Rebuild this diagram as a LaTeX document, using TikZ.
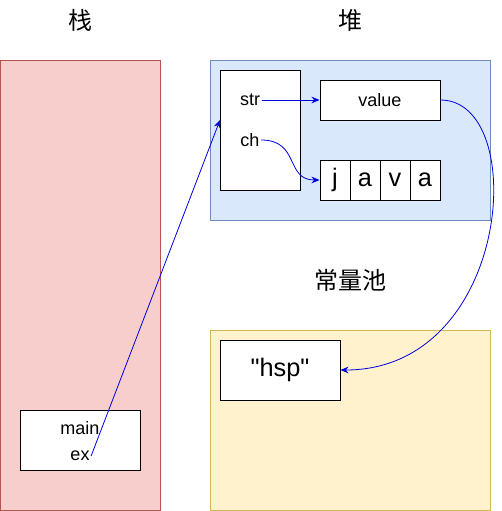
\documentclass[tikz,border=0pt]{standalone}
\usepackage{fontspec}
\setmainfont{Liberation Sans}
\newfontfamily\plainsans{Liberation Sans}
\newfontfamily\cjk{Noto Sans CJK SC}
\usetikzlibrary{arrows.meta}

\definecolor{stackfill}{HTML}{F8CECC}
\definecolor{stackline}{HTML}{B85450}
\definecolor{heapfill}{HTML}{DAE8FC}
\definecolor{heapline}{HTML}{6C8EBF}
\definecolor{poolfill}{HTML}{FFF2CC}
\definecolor{poolline}{HTML}{D6B656}
\definecolor{refblue}{HTML}{0000E0}

\tikzset{
    cell/.style={draw=black, fill=white, line width=0.75pt},
    ref/.style={draw=refblue, line width=0.6pt, -{Stealth[length=6pt,width=5pt]}},
    title/.style={font=\cjk\fontsize{18pt}{21pt}\selectfont},
    small/.style={font=\fontsize{13.5pt}{16pt}\selectfont},
    big/.style={font=\plainsans\fontsize{19pt}{22pt}\selectfont},
}

\begin{document}
\begin{tikzpicture}[x=0.75pt, y=-0.75pt]
    \useasboundingbox (0,0) rectangle (501,511);

    % zones
    \draw[fill=stackfill, draw=stackline] (0.5,60) rectangle (160,510);
    \draw[fill=heapfill, draw=heapline] (210,60) rectangle (490,220);
    \draw[fill=poolfill, draw=poolline] (210,330) rectangle (490,510);

    \node[title] (stacklbl) at (80,20) {栈};
    \node[title] (heaplbl) at (350,20) {堆};
    \node[title] (poollbl) at (350,280) {常量池};

    % stack frame
    \draw[cell] (20,410) rectangle (140,470);
    \node[small] (main) at (80,428) {main};
    \node[small, inner sep=1pt] (ex) at (80,456) {ex};

    % heap objects
    \draw[cell] (220,70) rectangle (300,190);
    \coordinate (obj) at (220,120);
    \node[small, inner sep=1pt] (str) at (250,100) {str};
    \node[small, inner sep=1pt] (ch) at (250,140) {ch};
    \node[cell, small, minimum width=90pt, minimum height=30pt, inner sep=0pt] (value) at (380,100) {value};
    \foreach \c [count=\i] in {j,a,v,a}
        \node[cell, big, minimum width=22.5pt, minimum height=30pt, inner sep=0pt] (arr\i) at (305+30*\i,180) {\c};

    % constant pool
    \node[cell, big, minimum width=90pt, minimum height=45pt, inner sep=0pt] (hsp) at (280,370) {"hsp"};

    % references
    \draw[ref] (ex.east) -- (obj);
    \draw[ref] (str.east) -- (value.west);
    \draw[ref] (ch.east) .. controls (300,140) and (285,180) .. (arr1.west);
    \draw[ref] (value.east) .. controls (530,100) and (512,370) .. (hsp.east);
\end{tikzpicture}
\end{document}
